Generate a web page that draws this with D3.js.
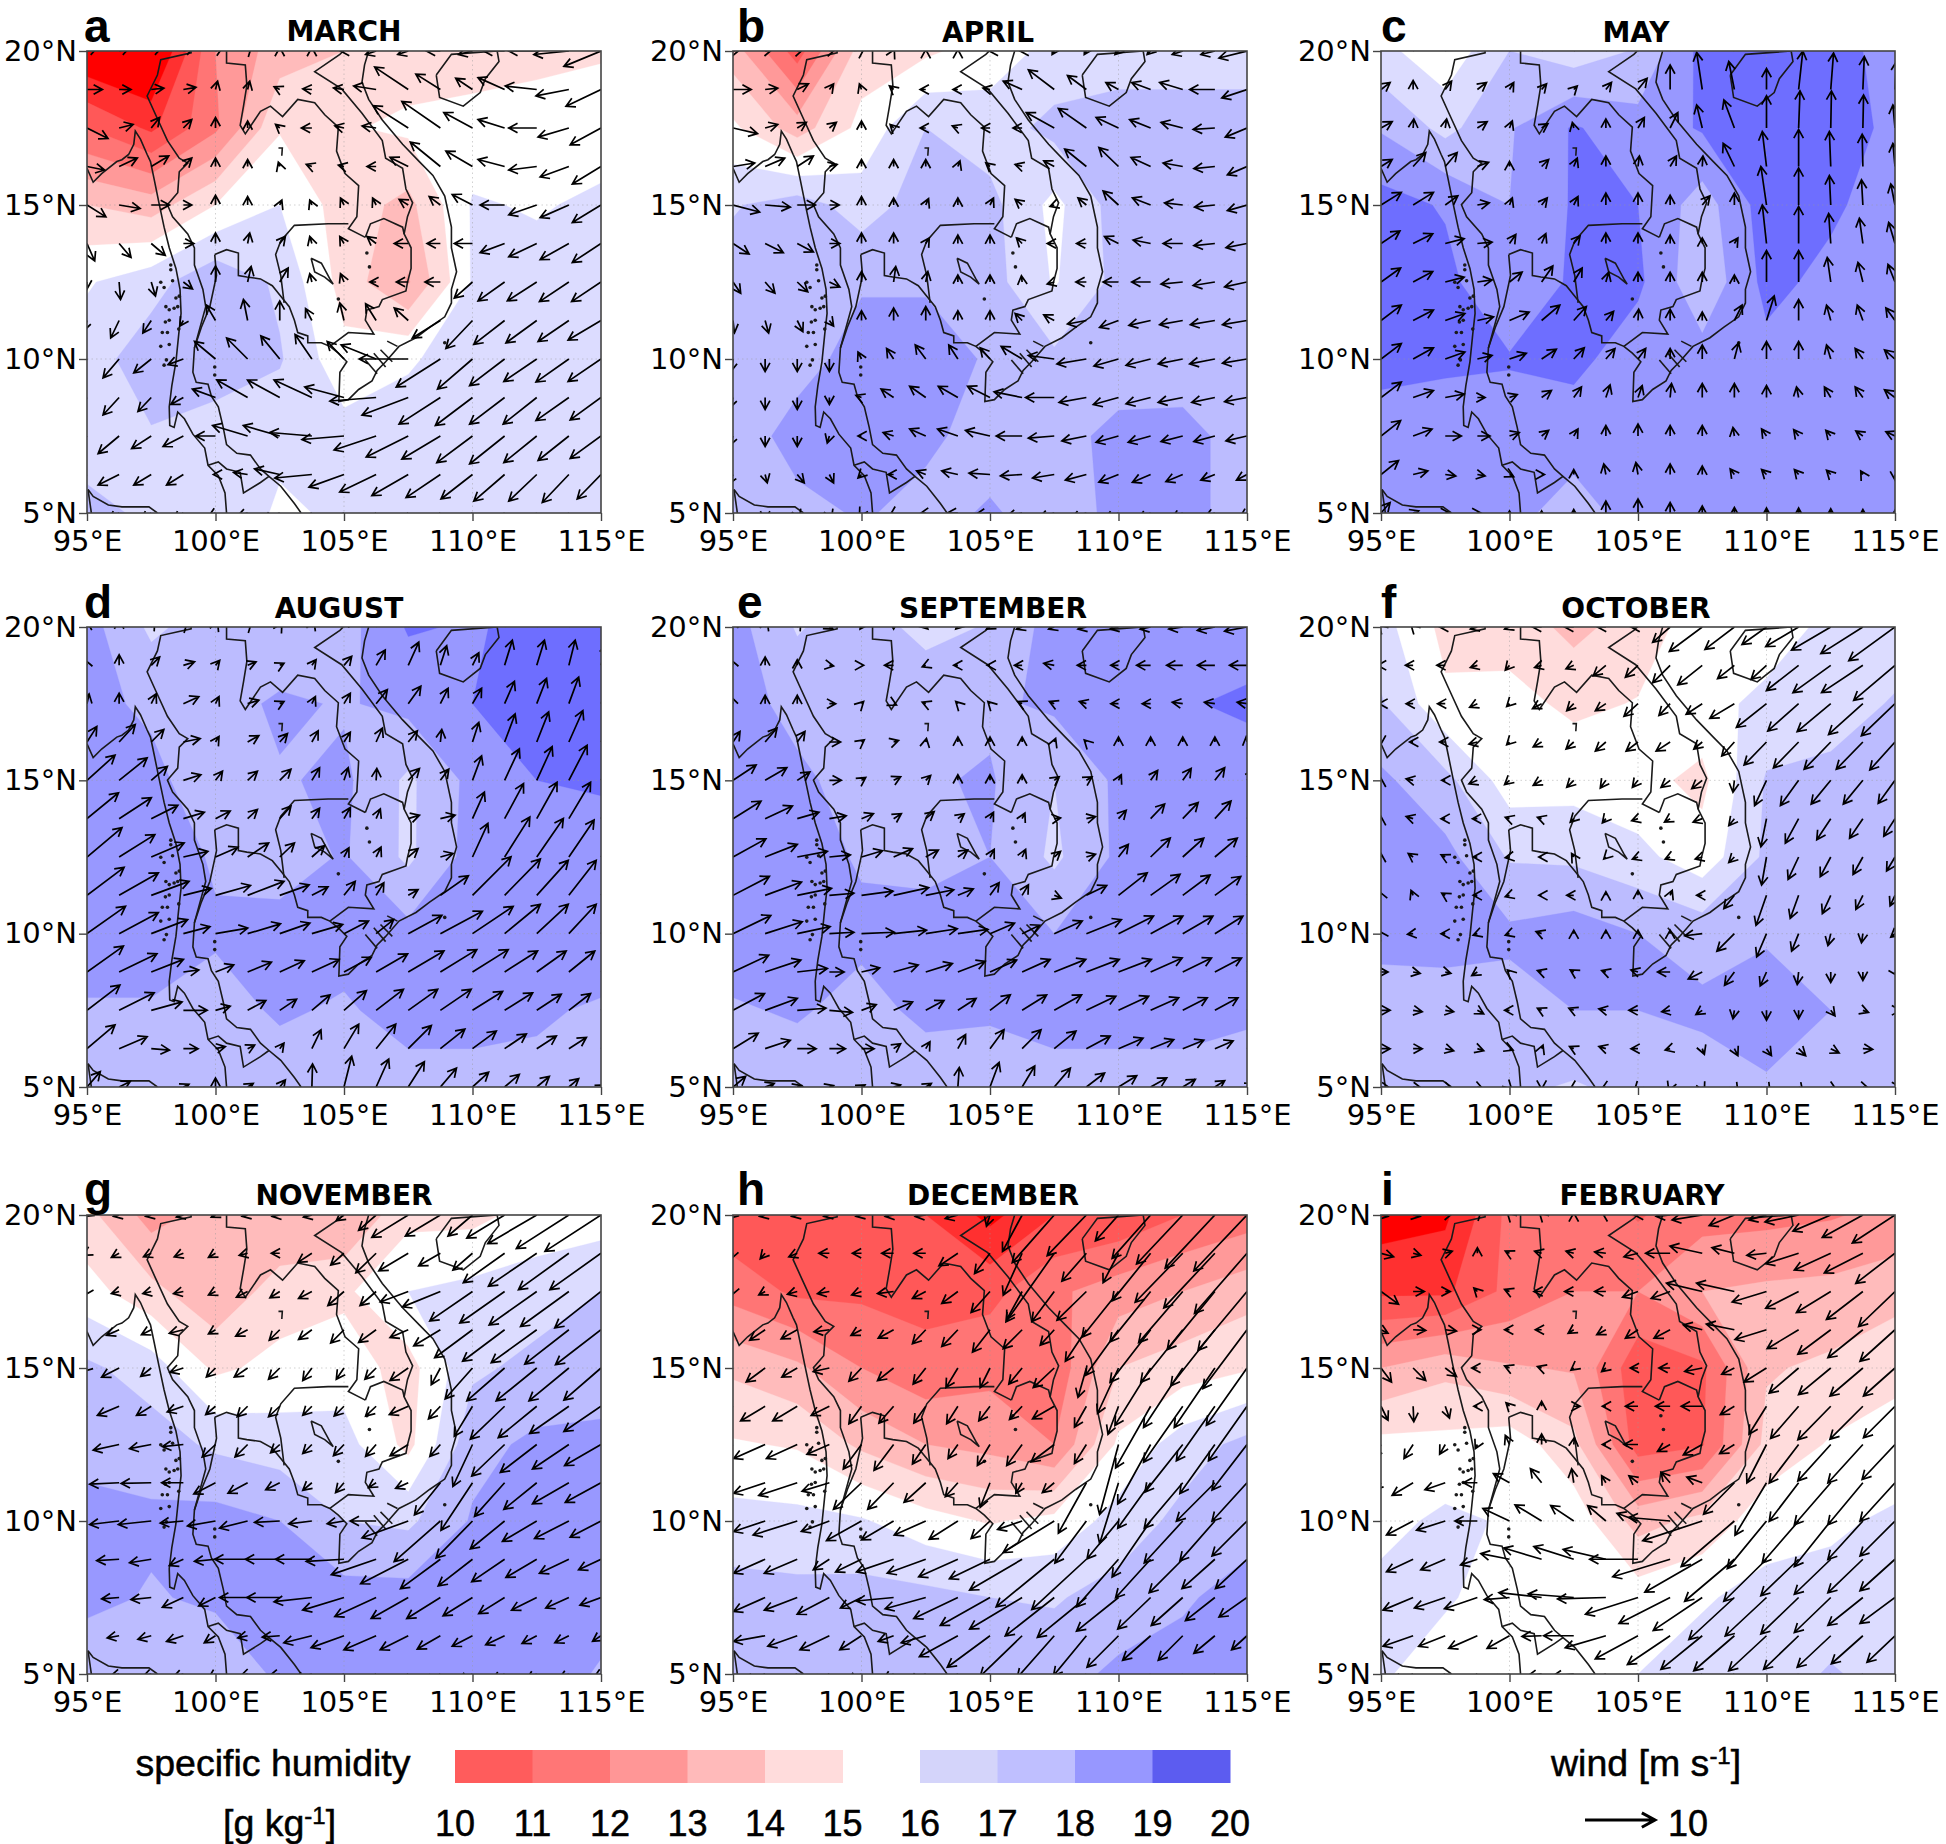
<!DOCTYPE html>
<html><head><meta charset="utf-8">
<script src="https://cdn.jsdelivr.net/npm/d3@7"></script>
<style>html,body{margin:0;padding:0;background:#fff}svg{display:block}</style>
</head><body><svg id="chart" width="1946" height="1844"></svg>
<script>
// Specific humidity, g/kg: rows 20N to 5N every 2.5 deg, columns 95E to 115E every 2.5 deg
const marchQ=[[8,7.5,12,13.5,14,14.5,14.5,14.7,14.9],[11,9.8,11.8,14.9,14.9,15.2,15.4,15.5,15.5],[14,13.5,15,16,14.5,13.7,16.1,15.9,16.2],[15.9,16.6,17.8,16.8,14.6,12.9,16.1,16.4,16.4],[16.5,17.6,17.7,17.1,15.3,15.9,16.4,16.4,16.4],[16.5,16.9,16.4,16.3,16.4,16.4,16.4,16.4,16.4],[17.3,16.8,17,15.8,16.2,16.4,16.4,16.7,16.4]];
const aprilQ=[[13.5,10.5,14.5,14.8,15.5,16.3,16.5,16.5,16.5],[15.2,13.5,15.3,17,16.5,17.3,17.5,17.5,17.5],[16.9,17.5,16.5,17.5,17.3,15.7,17.5,17.5,17.5],[17.5,17.5,17.9,17.9,17.4,15.9,17.3,17.4,17.4],[17.4,17.6,18.4,18.4,17.9,17.2,17.4,17.5,17.5],[17.4,18.4,18.3,18.2,17.6,17.6,18.3,18.3,17.6],[17.3,17.7,18.1,17.7,18.1,17.6,18.2,18.3,17.6]];
const mayQ=[[16.3,15.3,17,16.4,17.1,19.3,19.1,19.2,18.8],[17.9,16.7,17.9,19.1,18.4,19.1,19.6,19.6,18.7],[19.4,18.9,18,19.1,19,17.5,19.5,19.2,18.4],[19.4,19.3,18,19.2,19.2,17.2,19.3,18.7,18.4],[19.4,19.2,19.1,19.3,18.4,18.4,18.7,18.5,18.5],[18.4,18.4,18.4,18.4,18.4,18.4,18.4,18.4,18.4],[18,18.4,18.3,17.6,18.4,18.4,18.4,18.4,18.4]];
const augustQ=[[18.4,16.8,17.5,17,17.6,19.1,18.9,19.3,19.3],[18.3,17.8,17.5,18.2,17.9,18.3,19,19.2,19.3],[18.5,18.3,17.3,17.9,18.2,16.8,18.3,19,19.1],[18.6,18.5,17.9,17.5,18.1,16.8,18.4,18.6,18.6],[18.5,18.5,18.1,18.4,18.3,18.3,18.5,18.5,18.5],[17.9,17.9,17.7,18.1,17.9,18.3,18.2,18.1,17.9],[17.6,17.6,17.3,17.6,17.7,17.7,17.8,17.8,17.8]];
const septemberQ=[[18.4,16.9,17.6,16.6,17.1,18.4,18.4,18.4,18.4],[18.4,17.7,17.6,17.9,17.8,18.2,18.8,18.9,19.2],[18.4,18.2,17.6,17.9,18.1,17,18.2,18.4,18.4],[18.5,18.4,17.9,17.7,18,16.8,18.2,18.5,18.5],[18.5,18.5,18.2,18.4,18.1,18,18.4,18.5,18.5],[17.9,18.1,17.7,18.2,18.1,18.3,18.3,18.3,18.1],[17.6,17.5,17.4,17.5,17.6,17.7,17.7,17.7,17.7]];
const octoberQ=[[16.4,14.7,14.6,13.7,14.5,15.5,15.4,16.3,16.4],[17.1,15.2,15.3,14.8,15.05,15.6,16.3,16.5,17.1],[18.2,17.3,15.5,15.6,15.3,14.75,17.1,17.3,17.4],[18.5,18.3,16.9,16.8,16.3,15.4,17.2,17.4,17.4],[18.4,18.4,18.2,18.5,18,17.6,17.9,17.4,17.3],[17.4,17.5,17.6,18,18,18.2,18.4,18,17.4],[17.3,17.3,17.2,16.9,17.3,17.5,17.9,17.4,17.3]];
const novemberQ=[[14.3,12.6,13.4,13,13,14.7,14.7,15.4,15.5],[15.4,14.3,13.2,14.5,14.8,16,16.3,16.5,17],[17.2,16.5,14.8,15.3,15.5,14.6,16.8,17.3,17.4],[17.6,17.5,16.8,16.5,16.4,14.7,17.7,18.2,18.3],[18.4,18.2,18.4,18,17,16.8,18.1,18.4,18.4],[18.3,17.9,18.2,18.4,18.4,18.4,18.4,18.4,18.4],[17.2,17.3,17.2,18.2,18.5,18.5,18.5,18.5,17.9]];
const decemberQ=[[10.3,10,10.3,10,8.7,10,10.2,11,11.5],[11.6,10.8,10.8,10.7,10.7,11.8,12.5,13,13.6],[13.8,13.2,12,11.3,11.7,11.3,14,14.5,14.9],[15.1,14.9,13.8,13,12.7,12,15.2,16.5,17.3],[16.4,16.3,16.1,15.4,14.9,15.3,16.4,17.3,17.7],[17.4,17.3,17.4,17.3,17,16.9,17.4,17.9,18.3],[17.4,17.5,17.1,17,17.5,17.6,18.2,18.3,18]];
const februaryQ=[[8.5,8.8,11.3,11.8,10.9,11.6,11.7,11.9,12.3],[9.8,9.8,11.3,12,12,13,13.2,13.3,13.6],[13,13.7,13.1,12.9,10.3,10.8,13.9,14.2,14.8],[15.3,15.3,15.6,14.3,10.5,10.9,14.3,15.1,15.3],[15.7,16.2,15.9,15.6,13.6,14.3,15.6,15.8,16.2],[16.3,16.1,15.6,15.5,15.5,15.9,16.3,16.4,16.4],[16.1,15.6,15.8,15.1,16,16.4,16.5,17.1,16.6]];

// Wind in 0.1 m/s: rows 20N to 5N every 1.25 deg, each row u,v pairs for 95E to 115E every 1.25 deg
const marchWind=[
[15,5,15,5,15,5,15,5,10,5,5,5,0,5,0,5,-5,0,-15,-5,-15,-5,-20,0,-20,-5,-30,0,-40,0,-50,-5,-53,-22],
[22,0,17,0,18,2,18,3,3,12,3,12,-8,4,-13,1,-15,2,-32,5,-48,32,-35,22,-24,16,-38,17,-45,5,-47,-9,-50,-24],
[30,-15,20,5,12,15,12,12,0,15,0,10,-6,5,-15,0,-13,3,-20,3,-50,32,-55,38,-41,22,-38,12,-40,0,-44,-13,-44,-24],
[25,-5,26,12,25,15,12,12,0,12,0,10,-2,6,-8,3,-8,2,-13,0,-26,13,-43,35,-38,22,-38,10,-40,-5,-41,-15,-41,-25],
[27,-17,30,-5,26,0,12,0,0,14,0,12,3,7,-3,7,-5,10,-5,10,-13,8,-16,12,-29,15,-35,0,-40,-14,-41,-18,-41,-25],
[11,-25,17,-20,20,-17,15,0,0,15,3,15,8,10,-3,10,-6,10,-13,10,-20,0,-19,0,-26,0,-35,-13,-40,-19,-41,-23,-41,-27],
[0,-10,2,-25,6,-20,13,-10,0,23,5,22,12,20,-3,12,-5,12,-9,0,-17,0,-22,0,-26,-23,-38,-27,-42,-27,-42,-28,-42,-28],
[-5,-15,-12,-25,-12,-18,-5,-8,-13,22,-6,30,0,28,-9,17,-6,25,-15,24,-20,18,-40,-25,-38,-40,-44,-34,-44,-32,-44,-30,-47,-28],
[-20,-25,-23,-27,-25,-20,-22,-8,-30,25,-30,30,-27,33,-24,35,-24,25,-50,20,-70,0,-63,-40,-50,-43,-50,-38,-47,-32,-47,-33,-47,-32],
[-25,-25,-23,-25,-19,-20,-18,-10,-33,12,-44,25,-46,25,-54,25,-56,15,-66,-5,-66,-25,-59,-38,-53,-40,-50,-38,-48,-38,-47,-33,-44,-32],
[-25,-22,-30,-25,-28,-18,-29,-15,-28,0,-50,15,-52,15,-60,5,-60,-5,-60,-20,-60,-30,-55,-33,-51,-38,-50,-40,-47,-38,-44,-35,-44,-32],
[-25,-12,-30,-15,-25,-15,-24,-15,-3,0,-20,3,-36,8,-53,-5,-50,-18,-52,-25,-52,-30,-49,-33,-45,-35,-44,-38,-40,-38,-38,-40,-34,-35],
[-15,-10,-15,-10,-15,-10,-15,-10,-10,-5,-15,-5,-25,-10,-35,-15,-40,-20,-40,-25,-40,-28,-40,-30,-35,-30,-35,-30,-30,-30,-30,-30,-30,-30]];
const aprilWind=[
[10,2,10,2,8,2,8,2,3,2,1,2,0,2,0,2,-1,0,-3,0,-3,-5,-3,-5,-5,-5,-5,-5,-15,-5,-20,-5,-40,-10],
[26,0,18,2,16,8,6,8,-3,8,-6,5,-8,0,-7,0,-10,2,-27,12,-37,28,-27,20,-18,10,-27,10,-33,10,-36,0,-36,-12],
[35,-8,18,5,13,8,10,8,0,10,-5,5,-8,0,-8,3,-12,0,-13,0,-40,22,-40,28,-32,15,-30,12,-31,8,-31,-2,-31,-13],
[31,5,28,12,23,15,11,3,0,10,0,10,0,10,3,8,-6,5,-10,3,-15,8,-31,25,-28,27,-28,13,-28,5,-30,-3,-28,-12],
[38,-10,36,-3,26,0,14,0,0,12,0,10,4,9,0,10,5,10,-10,8,-6,-2,-12,10,-22,20,-26,10,-26,3,-29,-3,-28,-8],
[23,-15,26,-13,23,-12,15,0,0,15,0,15,5,8,0,12,0,12,-8,8,-10,0,-14,0,-20,10,-25,5,-28,0,-30,-3,-30,-6],
[11,-16,14,-16,15,-14,15,-7,0,15,3,22,3,15,0,10,0,10,-1,9,-10,-3,-15,0,-22,0,-27,0,-31,-3,-31,-5,-32,-7],
[2,-18,5,-18,8,-16,6,-8,0,14,0,18,0,20,0,14,0,14,-10,10,-15,8,-27,-5,-27,-10,-31,-7,-33,-6,-35,-6,-35,-6],
[-3,-18,0,-18,0,-18,0,-18,-5,10,-10,15,-15,20,-13,20,-14,16,-30,18,-37,5,-42,-7,-35,-10,-35,-9,-35,-7,-36,-7,-35,-6],
[-5,-15,0,-17,0,-17,0,-10,-8,3,-18,12,-23,16,-28,16,-32,16,-40,8,-41,0,-39,-7,-36,-10,-35,-9,-35,-7,-33,-7,-32,-6],
[-5,-14,0,-15,0,-15,-3,-10,-5,0,-15,5,-23,10,-29,10,-35,8,-37,0,-37,-3,-35,-7,-32,-9,-32,-9,-31,-8,-30,-8,-30,-7],
[-7,-14,3,-12,10,-12,6,-12,-5,-5,-8,0,-13,5,-23,5,-30,2,-31,-2,-31,-5,-30,-8,-28,-11,-26,-11,-24,-10,-20,-8,-15,-8],
[-5,-10,0,-10,3,-8,3,-8,-3,-5,-5,-3,-8,-1,-15,0,-20,-2,-22,-5,-22,-7,-22,-8,-20,-9,-18,-9,-16,-8,-14,-6,-10,-6]];
const mayWind=[
[10,15,10,15,10,15,10,15,10,15,10,15,10,15,10,15,5,15,3,15,0,15,-5,15,0,15,5,15,3,15,0,15,0,15],
[13,10,0,13,9,12,13,10,6,10,7,8,5,5,8,10,13,16,0,35,-8,53,-8,40,0,30,6,55,4,52,2,47,2,40],
[16,9,1,13,2,13,14,9,4,10,9,6,-2,8,0,13,9,15,11,22,-8,33,-15,40,0,46,2,53,1,53,1,47,-3,33],
[16,10,18,20,17,20,16,6,0,7,10,10,5,12,0,15,2,15,9,15,1,15,-16,33,-6,50,0,53,-2,50,-1,46,-3,33],
[29,18,29,18,18,13,17,3,4,10,8,10,6,12,0,17,0,17,0,14,11,13,0,17,-8,55,0,53,-2,42,-2,36,-6,30],
[27,18,28,14,27,7,21,2,9,13,6,14,9,11,0,15,0,15,0,12,0,8,5,8,-6,55,0,53,-3,43,-5,36,-9,30],
[28,20,28,15,27,7,21,3,18,14,16,23,12,20,4,14,0,14,0,14,0,14,0,10,0,45,0,45,-5,35,-7,28,-10,25],
[29,22,29,15,28,10,23,5,28,12,26,22,18,20,11,13,1,16,0,16,0,12,11,22,11,35,0,30,-6,22,-8,22,-13,18],
[29,22,29,16,28,10,21,5,24,8,21,14,15,16,13,15,11,15,0,15,0,20,6,23,0,25,0,25,-6,20,-11,15,-15,13],
[29,22,29,10,27,5,11,0,11,4,14,10,11,15,6,18,6,17,2,20,0,20,0,20,0,17,-3,15,-9,15,-11,15,-15,11],
[28,22,27,10,23,0,18,0,14,5,10,8,6,10,0,15,0,17,0,15,0,15,-2,12,-7,10,-7,9,-7,8,-10,7,-13,6],
[25,20,21,5,15,-2,11,-2,6,-3,4,0,0,7,-3,15,-3,17,0,15,0,12,-6,8,-7,7,-6,7,-6,6,-3,5,0,-8],
[13,15,8,3,6,0,5,0,0,3,0,3,0,5,0,17,0,20,0,15,0,10,0,8,0,7,0,7,0,6,0,5,0,4]];
const augustWind=[
[0,8,0,10,5,8,5,5,3,7,5,5,3,5,3,8,5,13,8,20,10,25,8,25,8,20,8,25,8,25,8,25,8,25],
[-3,8,0,15,12,12,16,5,6,7,12,5,6,3,6,8,11,13,13,22,15,33,9,28,9,18,11,36,11,36,9,36,8,30],
[3,14,0,15,7,14,22,10,5,10,16,5,6,3,5,10,9,15,16,20,18,25,11,22,13,22,14,32,14,36,14,38,15,35],
[14,22,23,25,18,18,24,5,5,8,16,9,11,12,9,16,9,14,9,20,13,16,2,18,9,28,15,40,17,43,20,45,18,40],
[40,36,40,32,23,20,25,8,10,13,14,13,16,16,11,18,6,18,1,17,16,17,12,16,13,35,21,45,22,48,26,50,25,45],
[45,37,46,30,38,19,30,9,21,11,14,13,16,18,11,15,9,16,6,14,16,5,21,5,17,38,27,50,29,52,31,52,30,50],
[50,42,51,32,47,20,35,8,32,14,30,20,21,20,18,16,7,13,7,14,14,12,18,5,22,48,36,57,38,55,36,53,35,50],
[53,40,56,32,54,20,40,10,50,14,52,20,42,15,23,12,16,20,11,18,14,8,40,28,55,55,51,52,45,50,39,50,35,45],
[55,39,56,30,52,20,38,10,46,8,47,14,43,15,44,13,35,18,25,20,48,26,60,32,58,39,51,42,45,42,39,42,35,40],
[52,37,54,26,46,18,22,3,26,10,34,14,35,16,39,18,39,21,45,26,51,30,52,32,51,32,47,30,42,30,37,30,35,28],
[47,36,50,25,44,12,34,0,21,6,26,14,24,16,26,22,32,28,39,30,42,30,44,30,43,27,40,25,35,23,31,24,28,22],
[40,34,40,17,26,-2,21,0,14,3,10,5,6,8,13,27,21,35,28,35,33,33,35,28,34,25,31,21,28,18,25,16,22,14],
[19,22,16,8,0,0,8,4,0,13,8,5,8,10,1,33,11,44,18,40,23,36,23,27,23,21,21,18,18,15,14,12,5,3]];
const septemberWind=[
[-3,8,3,8,5,8,5,-3,-2,-3,0,-3,3,-3,-3,-3,-5,-3,-8,-3,-8,-3,-12,-3,-12,-3,-15,-3,-20,-3,-25,-5,-32,-6],
[-3,8,0,12,0,8,6,-1,3,0,-13,0,-5,-2,-6,0,-4,0,-11,0,-15,3,-13,0,-11,0,-20,0,-23,0,-25,0,-25,0],
[-3,10,0,12,0,12,9,0,3,3,4,-2,-5,2,-3,3,-3,3,-6,3,-7,3,-10,3,-11,0,-12,0,-15,2,-15,2,-14,2],
[10,15,17,20,11,15,16,0,4,3,7,2,1,5,0,7,0,7,0,7,2,5,-3,3,0,7,0,7,0,7,0,7,-1,8],
[33,22,31,18,18,12,17,0,6,4,10,5,7,7,0,8,0,8,0,8,7,5,8,5,4,8,10,14,12,17,14,18,10,15],
[40,25,39,18,31,9,24,4,17,7,11,7,12,10,9,7,5,9,4,8,9,1,13,3,11,12,20,21,22,23,23,25,22,25],
[47,26,46,18,43,8,30,3,30,9,27,12,18,10,14,10,6,11,5,11,9,8,13,4,14,18,28,27,30,27,32,27,30,25],
[52,27,52,19,49,10,35,3,45,6,50,11,40,8,22,9,13,18,9,15,10,-4,29,14,41,32,42,30,39,29,37,27,35,25],
[54,26,53,17,47,10,35,2,47,2,47,5,45,7,43,6,35,15,25,12,40,18,50,20,50,25,46,25,43,25,40,25,38,24],
[51,24,51,17,43,5,21,0,26,6,35,10,38,12,39,15,38,17,40,18,45,18,47,18,47,18,45,20,41,20,38,20,36,20],
[45,24,46,17,41,3,33,-3,21,8,27,12,26,14,26,17,29,22,35,22,39,22,42,20,43,20,40,18,35,18,33,18,30,16],
[36,22,36,12,27,0,23,0,18,0,10,7,6,10,11,20,20,27,27,27,31,25,34,18,35,15,33,13,30,12,26,11,20,10],
[18,15,13,5,6,2,6,2,5,3,10,3,8,5,2,28,13,35,18,30,23,27,26,20,26,16,23,13,18,11,14,9,10,5]];
const octoberWind=[
[-3,3,-3,3,-8,0,-10,-3,-7,-3,-13,0,-13,0,-12,0,-10,0,-25,-22,-47,-35,-42,-32,-35,-25,-47,-28,-56,-33,-60,-38,-66,-48],
[-5,0,-11,0,-12,0,-10,-3,-6,-7,-10,-3,-11,-5,-18,-15,-18,-17,-25,-25,-35,-28,-24,-19,-22,-20,-46,-36,-54,-39,-59,-39,-59,-50],
[-3,0,-10,0,-11,0,-11,-5,-4,-4,-13,-7,-10,-10,-15,-10,-20,-18,-16,-17,-23,-15,-35,-21,-43,-34,-44,-39,-48,-40,-49,-44,-48,-46],
[0,-3,-5,0,-8,0,-12,-3,-4,-4,-12,-7,-11,-10,-15,-13,-17,-13,-20,-13,-12,-10,-18,-20,-32,-33,-36,-37,-38,-39,-38,-39,-36,-40],
[0,3,-10,2,-5,0,-12,-5,-7,-6,-12,-7,-10,-10,-8,-11,-8,-10,-13,-10,-15,-12,-2,-17,-17,-36,-26,-36,-28,-34,-28,-34,-24,-33],
[0,3,-10,3,-6,0,-7,0,-6,2,-6,2,-5,-5,-5,-6,-9,-3,-8,-5,-13,-5,-8,-10,-8,-40,-19,-35,-20,-30,-19,-28,-16,-25],
[0,5,-7,5,-6,3,-6,0,-6,-1,-4,0,-3,5,-3,-3,-8,-3,-7,-3,-10,-3,-8,-8,-7,-40,-15,-32,-15,-28,-14,-25,-12,-20],
[-2,5,-3,7,-5,3,-6,0,-6,-2,-4,0,-10,0,0,5,0,7,3,7,-8,0,-15,-19,-15,-43,-12,-33,-12,-26,-10,-20,-7,-15],
[-2,3,-8,-1,-6,0,-6,-2,-6,-2,-8,3,0,5,0,5,0,5,0,5,-25,-3,-25,-25,-14,-33,-10,-25,-4,-17,-2,-13,-6,-5],
[10,0,10,-2,8,-2,-8,-5,-3,3,-6,2,-5,3,-6,2,-10,3,-18,0,-20,-10,-14,-19,-9,-20,-2,-18,0,-15,0,-12,3,-5],
[13,0,13,-2,12,-2,9,-5,-7,0,-6,3,-7,3,-10,2,-13,0,-12,-2,-9,-6,-2,-12,0,-14,0,-12,6,-8,8,-3,8,0],
[13,0,13,0,12,-3,9,-3,5,-2,2,5,-6,3,-10,3,-10,0,-7,-2,3,-8,5,-10,7,-10,10,-10,12,-6,14,-1,14,0],
[13,-2,12,-2,10,-3,8,-3,3,-3,0,-3,-5,-3,-6,-3,-5,-5,-2,-5,3,-6,5,-7,5,-7,6,-7,8,-4,8,-2,8,0]];
const novemberWind=[
[-3,-2,-8,-2,-8,-2,-10,-3,-6,-3,-8,-2,-11,-2,-12,-3,-11,-8,-25,-22,-52,-32,-50,-30,-35,-30,-54,-33,-70,-41,-75,-48,-80,-52],
[-5,-3,-11,-6,-11,-5,-13,-5,-10,-6,-12,-3,-12,0,-20,-13,-19,-17,-29,-28,-42,-25,-31,-18,-28,-24,-59,-42,-69,-47,-72,-52,-73,-52],
[-3,-5,-11,-3,-12,-3,-14,-3,-10,-5,-16,-8,-14,-9,-19,-10,-23,-20,-23,-20,-40,-15,-54,-22,-61,-42,-64,-45,-68,-48,-69,-50,-66,-52],
[-15,-8,-18,-8,-14,-7,-20,-5,-10,-6,-17,-9,-15,-15,-19,-14,-19,-19,-25,-18,-26,-11,-38,-23,-54,-40,-60,-45,-65,-47,-63,-49,-65,-50],
[-5,-5,-25,-13,-15,-12,-19,-6,-13,-13,-19,-13,-16,-16,-13,-18,-11,-16,-16,-16,-26,-18,-13,-24,-39,-44,-54,-47,-58,-47,-57,-47,-53,-46],
[-20,-10,-31,-13,-21,-13,-23,-8,-14,-12,-15,-15,-16,-15,-13,-13,-14,-14,-15,-14,-27,-12,-17,-18,-26,-43,-49,-47,-55,-45,-56,-39,-53,-36],
[-25,-5,-37,-8,-31,-6,-30,-3,-19,-18,-18,-18,-13,-12,-13,-13,-15,-16,-15,-17,-26,-16,-15,-17,-28,-60,-47,-45,-52,-40,-52,-35,-52,-30],
[-30,-2,-42,-2,-43,-1,-31,0,-31,-16,-28,-15,-20,-10,-13,-11,-12,-14,-11,-7,-18,-8,-37,-46,-45,-68,-43,-48,-47,-38,-52,-30,-51,-28],
[-35,0,-42,-5,-47,-5,-33,-3,-40,-7,-40,-10,-36,-2,-33,-4,-24,-4,-37,0,-66,-24,-66,-58,-52,-53,-49,-40,-49,-29,-49,-25,-44,-23],
[-30,0,-32,-2,-31,-5,-20,-9,-30,-3,-47,0,-49,0,-52,0,-54,-3,-64,-22,-68,-35,-57,-42,-49,-38,-47,-32,-44,-26,-42,-20,-32,-15],
[-30,-2,-25,-2,-29,-3,-30,-14,-24,-12,-40,0,-47,0,-54,-6,-59,-18,-59,-27,-53,-30,-48,-30,-42,-26,-37,-23,-36,-18,-33,-15,-30,-11],
[-20,-3,-17,-3,-19,-5,-24,-8,-16,-10,-14,-3,-25,-2,-40,-10,-47,-17,-46,-20,-40,-20,-33,-19,-29,-15,-27,-13,-21,-11,-20,-10,-12,-8],
[-15,-3,-12,-3,-12,-4,-15,-5,-10,-6,-10,-3,-15,-3,-25,-8,-30,-12,-30,-15,-28,-15,-22,-12,-20,-10,-18,-9,-15,-8,-14,-7,-10,-5]];
const decemberWind=[
[-5,-5,-8,-2,-8,-2,-8,-2,-8,-2,-12,-2,-15,-2,-18,-5,-5,-16,-28,-52,-60,-68,-56,-58,-33,-37,-55,-62,-66,-70,-71,-76,-76,-80],
[-3,-8,-7,-8,-12,-5,-15,0,-13,0,-17,0,-17,0,-27,-18,-22,-29,-27,-60,-69,-98,-35,-40,-22,-42,-55,-68,-68,-70,-73,-78,-75,-86],
[-2,-5,-9,-5,-14,-4,-17,-3,-14,-5,-23,-3,-19,-10,-23,-17,-27,-30,-22,-40,-32,-43,-42,-41,-52,-65,-58,-72,-63,-73,-68,-83,-70,-84],
[-20,-12,-22,-15,-23,-13,-22,-3,-15,-8,-22,-12,-19,-20,-23,-24,-25,-32,-27,-27,-20,-22,-30,-45,-47,-65,-58,-75,-60,-75,-63,-80,-63,-84],
[-15,-10,-27,-20,-22,-13,-23,-5,-18,-19,-23,-18,-18,-23,-17,-28,-14,-28,-19,-23,-30,-28,-12,-42,-30,-65,-51,-82,-56,-85,-58,-85,-58,-82],
[-30,-18,-35,-21,-35,-21,-26,-13,-18,-25,-21,-24,-17,-24,-16,-25,-16,-21,-18,-19,-31,-18,-17,-30,-15,-40,-50,-88,-56,-80,-55,-78,-55,-78],
[-40,-17,-45,-20,-44,-20,-32,-14,-26,-35,-28,-37,-19,-28,-14,-20,-18,-30,-22,-30,-33,-25,-17,-27,-27,-100,-47,-85,-54,-68,-50,-70,-50,-65],
[-45,-15,-45,-15,-55,-18,-39,-12,-40,-38,-37,-38,-31,-28,-18,-20,-14,-35,-9,-15,-17,-14,-40,-72,-27,-87,-47,-65,-55,-65,-55,-55,-50,-55],
[-45,-17,-45,-15,-63,-20,-40,-15,-50,-28,-46,-27,-45,-20,-41,-26,-27,-25,-35,-12,-73,-45,-45,-60,-45,-54,-55,-80,-55,-60,-50,-57,-50,-50],
[-50,-15,-45,-20,-47,-20,-23,-15,-37,-18,-53,-18,-55,-20,-56,-25,-58,-28,-75,-44,-83,-68,-78,-72,-60,-68,-50,-55,-48,-48,-47,-42,-45,-42],
[-45,-15,-45,-20,-47,-18,-46,-24,-30,-15,-53,-5,-58,-16,-63,-30,-71,-40,-75,-45,-70,-55,-70,-57,-60,-48,-47,-45,-45,-40,-42,-33,-40,-28],
[-30,-8,-45,-8,-42,-15,-42,-20,-31,-20,-22,-8,-35,-10,-55,-30,-61,-45,-60,-58,-53,-60,-47,-57,-45,-45,-40,-35,-35,-35,-30,-25,-22,-20],
[-30,-8,-30,-10,-30,-12,-25,-12,-20,-10,-15,-8,-25,-10,-40,-25,-45,-35,-45,-40,-40,-40,-35,-38,-35,-35,-30,-30,-30,-28,-25,-22,-20,-18]];
const februaryWind=[
[10,-2,10,-2,10,2,5,5,-3,3,-3,3,0,3,-5,3,-5,0,-20,-2,-43,-7,-36,-15,-25,-7,-48,-10,-54,-23,-58,-32,-61,-40],
[18,-5,11,-3,10,3,0,8,-6,3,-10,3,-11,3,-16,2,-20,-5,-35,0,-46,10,-32,8,-28,-3,-47,-15,-52,-24,-55,-28,-56,-43],
[25,-18,16,0,7,0,-5,5,-7,3,-11,0,-13,0,-16,0,-22,-8,-27,-10,-51,12,-54,12,-49,-15,-47,-24,-49,-30,-52,-40,-52,-50],
[10,-5,18,-1,16,-2,5,0,-7,0,-9,0,-8,-5,-13,-7,-18,-12,-23,-12,-27,7,-40,8,-45,-14,-45,-27,-47,-35,-50,-40,-50,-45],
[15,-20,18,-18,16,-12,-8,0,-7,3,-6,2,-4,-3,-6,-5,-11,0,-16,0,-25,-5,-18,-9,-32,-20,-42,-36,-46,-38,-47,-40,-45,-40],
[10,-20,1,-22,6,-17,-5,0,-5,5,0,7,9,0,-5,0,-18,0,-21,0,-30,0,-20,-12,-25,-40,-40,-46,-47,-48,-47,-47,-45,-45],
[-10,-20,-13,-20,-8,-14,-3,-6,-6,13,0,15,1,10,-5,0,-20,0,-18,-10,-27,-15,-21,-13,-28,-55,-42,-55,-47,-52,-50,-55,-47,-50],
[-10,-10,-30,-18,-29,-10,-20,0,-23,13,-16,20,-3,20,-6,10,-13,10,-13,15,-22,8,-44,-45,-45,-75,-42,-55,-52,-60,-50,-60,-50,-55],
[-20,-12,-38,-20,-41,-13,-32,0,-38,18,-38,23,-33,22,-26,22,-30,11,-59,5,-85,-28,-76,-65,-56,-68,-52,-60,-52,-65,-50,-55,-50,-50],
[-20,-10,-38,-18,-35,-15,-24,-8,-41,8,-54,16,-57,18,-61,14,-69,0,-82,-25,-82,-47,-71,-60,-61,-60,-54,-52,-52,-50,-50,-48,-50,-45],
[-25,-10,-43,-18,-44,-15,-47,-16,-36,-3,-61,7,-65,5,-69,-2,-75,-24,-73,-37,-70,-47,-65,-60,-59,-55,-54,-52,-52,-50,-50,-40,-50,-37],
[-20,-10,-43,-15,-38,-15,-41,-18,-32,-18,-28,-1,-43,0,-58,-17,-61,-33,-61,-41,-59,-48,-58,-50,-54,-50,-50,-48,-48,-45,-45,-40,-40,-38],
[-20,-8,-30,-10,-30,-12,-30,-15,-25,-12,-20,-3,-30,-3,-40,-15,-45,-25,-45,-30,-45,-35,-45,-38,-42,-38,-40,-38,-38,-35,-35,-30,-30,-30]];

// Map lines, lon/lat pairs
const coastlines=[
[95,16.19,95.24,15.74,95.57,16.02,96.16,16.41,96.36,16.47,96.62,16.64,96.82,16.97,96.88,17.4,97.08,17.14,97.34,16.64,97.47,16.41,97.61,15.85,97.8,15.07,98,14.28,98.2,13.61,98.46,12.94,98.62,12.26,98.66,11.48,98.57,10.81,98.46,9.91,98.3,9.13,98.2,8.45,98.22,7.84,98.39,7.78,98.53,8.28,98.79,8.06,99.12,7.56,99.58,7.11,99.71,6.55,100.11,6.21,100.37,5.65,100.43,5],
[99.97,13.39,100.04,12.71,99.78,11.7,99.45,11.03,99.18,10.36,99.12,9.57,99.25,9.24,99.71,9.18,99.84,8.79,100.11,8.45,100.3,7.78,100.43,7.22,100.83,6.94,101.36,6.88,101.75,6.43,102.08,6.19,102.54,5.87,103.07,5.31,103.33,5],
[99.97,13.39,100.43,13.55,100.89,13.44,100.89,12.71,101.22,12.66,101.75,12.6,102.21,12.38,102.54,12.04,102.87,11.7,103.07,11.26,103.2,10.86,103.59,10.75,103.59,10.53,104.12,10.53,104.45,10.41,104.78,10.19,105.11,9.91,104.84,9.57,104.8,8.62,105.17,8.68,105.57,9.01,106.09,9.29,106.29,9.63,106.62,9.91,107.14,10.41,107.8,10.69,108.33,11.03,108.92,11.37,109.18,11.82,109.18,12.26,109.38,12.83,109.18,13.61,109.18,14.28,108.92,15.29,108.46,15.96,107.93,16.41,107.28,16.97,106.49,17.76,105.96,18.43,105.7,18.99,105.8,19.55,105.96,20],
[108.59,19.22,109.18,19.89,110.96,20,111.03,19.66,110.5,19.1,110.3,18.65,109.64,18.21,108.72,18.49,108.59,19.22],
[95.04,5.76,95.24,5.54,95.83,5.26,96.36,5.2,97.01,5.2,97.41,5.2,97.74,5],
[95.04,5.76,95.17,5],
[99.71,6.55,100.11,6.66,100.43,6.43,100.96,6.32,101.09,5.65,101.75,5.99,102.08,6.19],
[103.72,13.27,104.12,13.11,104.45,12.6,104.58,12.43,104.25,12.66,103.86,12.83,103.72,13.27],
[105.83,9.97,106.29,9.52],[106.16,10.19,106.62,9.74],[106.42,10.3,106.88,9.91],[106.68,10.58,107.08,10.41],
[102.45,16.85,102.6,16.85,102.58,16.6]];
const borders=[
[99.05,20,99.05,19.94,97.87,19.72,97.74,19.22,97.34,18.54,97.67,17.93,98.13,17.09,98.59,16.52,98.92,16.36,98.59,16.08,98.53,15.4,98.13,15.01,98.33,14.62,98.92,14.06,99.18,13.61,99.18,13.05,99.51,12.26,99.62,11.7,99.18,10.36],
[100.43,20,100.43,19.61,101.16,19.55,101.22,18.88,101.09,18.21,100.96,17.59,101.16,17.31,101.75,18.04,102.14,18.21,102.61,17.87,103.2,18.43,103.86,18.32,104.25,17.93,104.78,17.53,104.71,16.75,105.04,16.02,105.57,15.63,105.5,14.62,105.17,14.23,105.83,13.95],
[105.17,14.39,104.38,14.39,103.07,14.34,102.54,13.83,102.34,13.39,102.54,12.71,102.67,11.82],
[104.97,20,104.84,19.89,103.86,19.33,104.91,18.77,105.7,17.98,106.49,17.09,106.62,16.52,107.28,16.19,107.41,15.52,107.67,15.07,107.47,14.62,107.34,14.06,107.61,13.61,107.61,12.94,107.47,12.49,107.41,12.21,106.49,11.93,106.36,11.7,105.89,11.59,105.83,11.26,106.16,10.81,105.17,10.86,104.45,10.41],
[105.83,13.95,106.03,14.39,106.55,14.56,107.28,14.28,107.34,14.06]];
const islandLons=[97.87,98,98.33,98.46,98.59,98.53,98.39,98.07,98.2,97.93,98.13,98.2,97.87,98.09,98,98.57,99.97,99.97,105.89,105.99,104.78,108.92,98.26,98.26,98.2,98.05];
const islandLats=[12.49,12.32,12.54,11.98,12.04,11.7,11.65,11.7,11.26,10.86,10.86,10.47,10.41,9.97,9.8,10.97,9.74,9.48,13.44,12.99,11.95,10.53,13.05,12.9,11.6,11.2];

const panelLetters=["a","b","c","d","e","f","g","h","i"];
const panelTitles=["MARCH","APRIL","MAY","AUGUST","SEPTEMBER","OCTOBER","NOVEMBER","DECEMBER","FEBRUARY"];
const humidityGrids=[marchQ,aprilQ,mayQ,augustQ,septemberQ,octoberQ,novemberQ,decemberQ,februaryQ];
const windGrids=[marchWind,aprilWind,mayWind,augustWind,septemberWind,octoberWind,novemberWind,decemberWind,februaryWind];
const lonTicks=[95,100,105,110,115];
const latTicks=[5,10,15,20];
const fillThresholds=[9,10,11,12,13,14,15,16,17,18,19,20];
const fillColors=["#ff3030","#ff5858","#ff7575","#ff9999","#ffbbbb","#ffdcdc","#ffffff","#dcdcff","#bcbcff","#9898ff","#6e6eff","#5050f0"];
const baseColor="#ff0000";
const legendLow=[10,11,12,13,14];
const legendHigh=[16,17,18,19];
const legendLowColors=["#ff5c5c","#ff7676","#ff9696","#ffbaba","#ffdcdc"];
const legendHighColors=["#d4d4fa","#bfbfff","#9797ff","#5c5cf0"];
const legendTicks=[10,11,12,13,14,15,16,17,18,19,20];

const colLefts=[87,733,1381], panelW=514;
const rowTops=[51,627,1215], rowHeights=[462,460,459];
const titleX=[344,988,1636,339,993,1636,344,993,1642];
const titleY=[41,42,42,618,618,618,1205,1205,1205];
const letterX=[84,737,1381];
const letterY=[42,618,1205];

const svg=d3.select("#chart");
const defs=svg.append("defs");
const windScale=d3.scaleLinear().domain([0,100]).range([0,70]); // wind (0.1 m/s) to px
const pairs=a=>d3.range(0,a.length,2).map(i=>[a[i],a[i+1]]);

function arrow(g,x0,y0,dx,dy,sw,h){
  const len=Math.hypot(dx,dy); if(len<0.5) return;
  const a=Math.atan2(dy,dx), w=0.5;
  const x1=x0+dx,y1=y0+dy;
  const p=d3.path();
  p.moveTo(x0,y0);p.lineTo(x1,y1);
  p.moveTo(x1-h*Math.cos(a-w),y1-h*Math.sin(a-w));p.lineTo(x1,y1);p.lineTo(x1-h*Math.cos(a+w),y1-h*Math.sin(a+w));
  g.append("path").attr("d",p.toString()).attr("fill","none").attr("stroke","#000").attr("stroke-width",sw);
}

panelTitles.forEach((title,k)=>{
  const ox=colLefts[k%3], oy=rowTops[Math.floor(k/3)], panelH=rowHeights[Math.floor(k/3)];
  const g=svg.append("g").attr("transform",`translate(${ox},${oy})`);
  const x=d3.scaleLinear().domain([95,115]).range([0,panelW]);
  const y=d3.scaleLinear().domain([5,20]).range([panelH,0]);
  const id="clip"+k;
  defs.append("clipPath").attr("id",id).append("rect").attr("width",panelW).attr("height",panelH);
  const plot=g.append("g").attr("clip-path",`url(#${id})`);
  plot.append("rect").attr("width",panelW).attr("height",panelH).attr("fill",baseColor);
  const Q=humidityGrids[k], ny=Q.length, nx=Q[0].length;
  const contours=d3.contours().size([nx,ny]).thresholds(fillThresholds)(Q.flat());
  const path=d3.geoPath(d3.geoTransform({point(px,py){this.stream.point(x(95+(px-0.5)*2.5),y(20-(py-0.5)*2.5));}}));
  plot.selectAll("path.q").data(contours).join("path").attr("class","q")
    .attr("d",path).attr("fill",(d,i)=>fillColors[i]).attr("stroke",(d,i)=>fillColors[i]).attr("stroke-width",0.3);
  // faint grid
  const grid=plot.append("g").attr("stroke","#999").attr("stroke-opacity",0.45).attr("stroke-dasharray","1.5 3");
  [100,105,110].forEach(v=>grid.append("line").attr("x1",x(v)).attr("x2",x(v)).attr("y1",0).attr("y2",panelH));
  [10,15].forEach(v=>grid.append("line").attr("y1",y(v)).attr("y2",y(v)).attr("x1",0).attr("x2",panelW));
  // map
  const line=d3.line().x(d=>x(d[0])).y(d=>y(d[1]));
  const map=plot.append("g").attr("fill","none").attr("stroke","#1a1a1a").attr("stroke-width",1.6);
  coastlines.concat(borders).forEach(c=>map.append("path").attr("d",line(pairs(c))));
  plot.selectAll("circle.isl").data(islandLons).join("circle").attr("class","isl")
    .attr("cx",d=>x(d)).attr("cy",(d,i)=>y(islandLats[i])).attr("r",1.8).attr("fill","#1a1a1a");
  // wind
  const arrows=plot.append("g");
  windGrids[k].forEach((row,j)=>{
    pairs(row).forEach(([u,v],i)=>{
      arrow(arrows,x(95+i*1.25),y(20-j*1.25),windScale(u),-windScale(v),1.7,10);
    });
  });
  g.append("rect").attr("width",panelW).attr("height",panelH).attr("fill","none").attr("stroke","#444").attr("stroke-width",1.6);
  // axes
  const ax=g.append("g").attr("transform",`translate(0,${panelH})`)
    .call(d3.axisBottom(x).tickValues(lonTicks).tickSize(8).tickPadding(9).tickFormat(d=>d+"°E"));
  const ay=g.append("g").call(d3.axisLeft(y).tickValues(latTicks).tickSize(8).tickPadding(2).tickFormat(d=>d+"°N"));
  [ax,ay].forEach(a=>{a.select(".domain").remove();
    a.selectAll("line").attr("stroke","#444").attr("stroke-width",1.4);
    a.selectAll("text").attr("font-family","DejaVu Sans").attr("font-size",29).attr("fill","#000");});
  svg.append("text").attr("x",titleX[k]).attr("y",titleY[k]).attr("text-anchor","middle")
    .attr("font-family","DejaVu Sans").attr("font-weight","bold").attr("font-size",28).text(title);
  svg.append("text").attr("x",letterX[k%3]).attr("y",letterY[Math.floor(k/3)])
    .attr("font-family","Liberation Sans").attr("font-weight","bold").attr("font-size",46).text(panelLetters[k]);
});

// Legend
const lx=d3.scaleLinear().domain([10,20]).range([455,1230]);
const leg=svg.append("g");
legendLow.forEach((v,i)=>leg.append("rect").attr("x",lx(v)).attr("y",1750).attr("width",lx(v+1)-lx(v)+0.5).attr("height",33).attr("fill",legendLowColors[i]));
legendHigh.forEach((v,i)=>leg.append("rect").attr("x",lx(v)).attr("y",1750).attr("width",lx(v+1)-lx(v)+0.5).attr("height",33).attr("fill",legendHighColors[i]));
const lfont="Liberation Sans";
legendTicks.forEach(v=>leg.append("text").attr("x",lx(v)).attr("y",1836).attr("text-anchor","middle").attr("font-family",lfont).attr("font-size",36).attr("stroke","#000").attr("stroke-width",0.5).text(v));
function sup(x,y,a,s,b){
  const t=leg.append("text").attr("x",x).attr("y",y).attr("font-family",lfont).attr("font-size",37.5).attr("stroke","#000").attr("stroke-width",0.5);
  t.append("tspan").text(a);
  t.append("tspan").attr("dy",-12).attr("font-size",24).text(s);
  t.append("tspan").attr("dy",12).text(b);
}
leg.append("text").attr("x",273).attr("y",1776).attr("text-anchor","middle").attr("font-family",lfont).attr("font-size",37.5).attr("stroke","#000").attr("stroke-width",0.5).text("specific humidity");
sup(223,1836,"[g kg","-1","]");
sup(1551,1776,"wind [m s","-1","]");
arrow(leg,1585,1820,windScale(100),0,3,15);
leg.append("text").attr("x",1668).attr("y",1836).attr("font-family",lfont).attr("font-size",36).attr("stroke","#000").attr("stroke-width",0.5).text("10");
</script></body></html>
